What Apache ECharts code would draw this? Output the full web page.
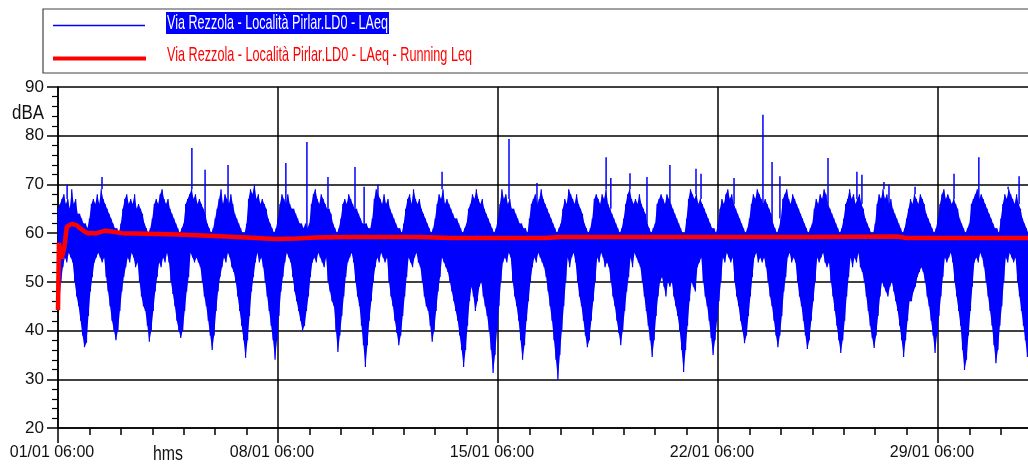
<!DOCTYPE html>
<html><head><meta charset="utf-8">
<script src="https://cdn.jsdelivr.net/npm/echarts@6/dist/echarts.min.js"></script>
<style>html,body{margin:0;padding:0;background:#fff;overflow:hidden}#c{width:1028px;height:465px}</style>
</head><body><div id="c"></div>
<script>
// ---- data ----
const seriesNames = ['Via Rezzola - Località Pirlar.LD0 - LAeq', 'Via Rezzola - Località Pirlar.LD0 - LAeq - Running Leq'];
const xTickLabels = ['01/01 06:00', '08/01 06:00', '15/01 06:00', '22/01 06:00', '29/01 06:00'];
const yUnit = 'dBA';
const xUnit = 'hms';
const slotHours = 1.5; // one slot every 1.5 h, starting 01/01 06:00 (x in days)
// highest LAeq in each slot (dBA), one row per day
const hiVals = [
  65,66,67,68,66,67,65,69,66,67,64,64,63,62,62,61,
  63,66,67,66,68,66,69,67,66,65,64,63,62,61,61,60,
  62,65,67,68,66,67,66,68,65,66,65,64,62,61,60,61,
  63,66,67,66,68,69,67,66,67,65,64,63,62,61,60,61,
  62,66,67,68,69,67,68,66,67,66,65,64,62,61,60,61,
  63,65,67,69,66,68,67,66,68,66,64,63,62,61,60,60,
  62,67,69,68,70,67,68,66,67,66,65,63,62,61,60,61,
  63,66,68,67,66,68,66,65,65,64,63,62,62,61,62,61,
  62,66,68,69,67,66,68,67,66,65,65,64,62,61,60,61,
  63,66,67,66,68,67,66,65,65,64,63,62,62,62,61,61,
  63,67,69,68,67,66,68,66,67,65,64,63,62,61,61,60,
  62,65,67,68,66,69,67,66,67,65,64,63,62,61,60,61,
  63,66,68,67,69,66,67,66,65,64,63,63,62,61,60,61,
  62,65,66,68,67,69,67,66,67,65,64,63,62,61,60,61,
  63,66,69,67,68,66,67,65,65,64,63,62,62,61,61,60,
  63,66,67,68,66,67,69,67,66,65,64,63,62,61,60,61,
  62,65,67,66,69,68,67,66,68,66,65,64,62,61,60,61,
  63,67,68,67,66,68,67,69,66,65,64,63,62,61,60,61,
  63,66,68,69,67,66,67,66,68,66,65,64,62,61,60,61,
  62,66,67,68,67,66,68,67,66,65,64,63,62,61,60,60,
  63,67,69,68,67,68,66,67,66,65,64,63,62,61,61,60,
  62,65,67,66,68,69,67,68,66,65,64,63,62,61,60,61,
  63,66,68,67,69,68,67,66,67,66,65,64,62,61,60,61,
  63,67,68,69,67,66,68,67,66,65,64,63,62,61,60,61,
  62,65,67,66,68,67,69,68,66,65,64,63,62,61,60,61,
  63,66,67,69,67,68,66,67,68,66,65,63,62,61,60,60,
  62,66,68,67,69,67,68,66,67,65,64,63,62,61,60,61,
  63,65,67,66,68,67,66,68,67,66,64,63,62,61,60,61,
  63,66,68,69,67,68,67,66,67,66,65,63,62,61,60,61,
  62,66,67,68,69,67,68,67,66,65,64,63,62,61,61,60,
  63,66,68,67,69,68,67,66,68,66,65,63,62,61,60,61
];
// lowest LAeq in each slot (dBA)
const loVals = [
  45,50,53,55,54,56,55,54,50,47,45,42,39,36.6,37.5,43,
  48,51,54,55,56,55,54,55,51,48,45,42,40,38,40,44,
  48,51,53,55,54,56,55,53,54,50,47,45,44,41,37.7,40,
  44,48,51,54,53,55,54,56,54,50,47.5,45,42,40,38.5,40,
  44,48,51,56,55,54,55,54,53,50,47,45,42,39,36,39,
  44,48,51,53,55,54,56,55,53,52,50,47,44,41,38,34.4,
  38,43,48,51,54,56,54,55,53,50,47,44,41,38,34,38,
  43,48,51,54,56,55,54,51,48,46,44,42,40,41,44,47,
  51,54,55,54,56,55,54,53,55,50,48,46,45,40,35.6,39,
  43,47,51,54,55,56,54,50,47,45,41,37,32.5,37,42,46,
  50,53,55,54,56,55,54,55,50,47,45,42,39.5,37,39,43,
  47,51,55,54,53,55,56,54,53,50,47,45,44,41,37.7,40,
  44,48,51,55,54,53,52,50,48,46,44,42,39,36,32.5,36,
  41,46,49,47,44,46,49,50,47,45,43,40,36,31.3,35,40,
  45,50,54,55,54,56,55,50,47,45,42,38,34,37,42,46,
  50,53,55,54,56,55,54,53,51,48,45,42,38,34,29.9,35,
  40,45,50,55,53,55,56,54,50,47,45,42,39,36.6,38,42,
  46,50,55,54,56,55,53,54,53,50,47,45,42,39.5,37,40,
  44,48,51,55,53,56,55,54,53,50,47,44,41,38,34.6,38,
  43,47,50,51,49,47,50,49,50,47,45,43,40,36,31.5,36,
  41,46,50,49,48,53,54,55,50,47,45,42,38.5,35,38,42,
  46,50,55,54,56,55,54,55,50,47,45,42,40,37.4,39,43,
  47,51,55,56,54,55,54,55,53,50,47,45,42,39,36.6,39,
  43,48,51,55,56,54,55,54,50,47,45,42,39,36.2,38,42,
  46,50,55,54,55,56,54,53,54,50,47,44,41,38,35.4,38,
  42,47,51,55,53,55,54,56,53,52,50,47,44,41,38.5,36.4,
  39,43,47,50,49,48,47,49,50,48,46,44,41,38,34.6,38,
  42,46,46,48,49,51,52,53,52,50,47,45,42,39,35.4,39,
  43,47,51,55,54,55,56,54,50,47,44,41,36,31.9,34,39,
  44,49,54,55,54,56,55,53,50,47,44,41,37,33.3,36,41,
  45,50,55,54,56,55,54,55,50,47,44,41,38,34.6,37,42
];
// isolated high peaks [day offset, dBA]
const spikes = [
  [0.29,70],[1.40,71.5],[4.26,77.5],[4.68,73],[5.41,74],[7.25,74.4],[7.92,78.7],[8.59,71.5],
  [9.45,73.6],[9.74,69.5],[10.18,70],[12.22,72.6],[14.35,79.3],[15.24,70.3],[17.44,75.6],[17.59,71.3],
  [18.20,72.3],[18.74,71.5],[19.47,74],[20.30,73.2],[20.46,72.2],[21.51,71.3],[22.43,84.3],[22.72,74.6],
  [22.97,71.7],[24.50,75.4],[25.42,72.6],[25.58,72],[26.28,70.5],[26.44,70],[27.27,69.5],[28.51,72.2],
  [29.30,75.6],[30.23,69.5],[30.58,71.7]
];
// running Leq [day offset, dBA]
const runningLeq = [
  [0,44.2],[0.03,58],[0.12,54.8],[0.2,57],[0.28,61.3],[0.44,61.9],[0.6,61.6],[0.7,61.0],[0.85,60.3],
  [0.95,60.0],[1.23,60.0],[1.5,60.5],[1.75,60.3],[2.04,60.0],[2.83,59.9],[3.82,59.7],[5.0,59.4],
  [6.0,59.1],[6.9,58.8],[7.6,58.9],[8.2,59.1],[9.2,59.2],[11.5,59.2],[12.5,59.0],[15.5,59.0],[16,59.2],
  [20,59.2],[24,59.2],[26.7,59.3],[27.0,59.0],[30,59.0],[30.9,59.0]
];

// ---- build ----
const FONT = "'Liberation Sans', Arial, sans-serif";
const step = slotHours / 24;
const zig = [];
hiVals.forEach((h, i) => { zig.push([i * step, h]); zig.push([i * step + step / 2, loVals[i]]); });
const idx = t => Math.max(0, Math.min(hiVals.length - 1, Math.round(t / step)));
const hiAt = t => hiVals[idx(t)];

const mctx = document.createElement('canvas').getContext('2d');
function fitScale(text, size, target) {
  mctx.font = size + 'px ' + FONT;
  return target / mctx.measureText(text).width;
}
function label(text, x, y, size, target, color) {
  return {type: 'text', x: x, y: y, scaleX: fitScale(text, size, target), z: 102,
    style: {text: text, fill: color, font: size + 'px ' + FONT, verticalAlign: 'middle', textVerticalAlign: 'middle'}};
}

const chart = echarts.init(document.getElementById('c'), null, {renderer: 'canvas'});
const axisCol = '#000';
chart.setOption({
  animation: false,
  backgroundColor: '#fff',
  grid: {left: 58, top: 87, bottom: 37, right: -130, containLabel: false, outerBoundsMode: 'none'},
  xAxis: {
    type: 'value', min: 0, max: 35, interval: 7,
    axisLine: {show: true, lineStyle: {color: axisCol, width: 1.5}},
    axisTick: {show: true, length: 15, lineStyle: {color: axisCol, width: 1.5}},
    minorTick: {show: true, splitNumber: 7, length: 7, lineStyle: {color: axisCol, width: 1.5}},
    splitLine: {show: true, lineStyle: {color: axisCol, width: 1.5}},
    axisLabel: {
      fontFamily: FONT, fontSize: 16, color: '#111', margin: 17, padding: [0, 12, 0, 0],
      formatter: v => { const k = Math.round(v / 7); return Math.abs(v - 7 * k) < 1e-6 && k < xTickLabels.length ? xTickLabels[k] : ''; }
    }
  },
  yAxis: {
    type: 'value', min: 20, max: 90, interval: 10,
    axisLine: {show: true, lineStyle: {color: axisCol, width: 1.5}},
    axisTick: {show: true, length: 11, lineStyle: {color: axisCol, width: 1.5}},
    minorTick: {show: true, splitNumber: 5, length: 6, lineStyle: {color: axisCol, width: 1.2}},
    splitLine: {show: true, lineStyle: {color: axisCol, width: 1.5}},
    axisLabel: {fontFamily: FONT, fontSize: 17, color: '#111', margin: 14}
  },
  graphic: [
    {type: 'rect', shape: {x: 43, y: 9, width: 1000, height: 64}, style: {fill: '#fff', stroke: '#444', lineWidth: 1.2}, z: 100},
    {type: 'line', shape: {x1: 53, y1: 25.5, x2: 145, y2: 25.5}, style: {stroke: '#0000ff', lineWidth: 1.6}, z: 101},
    {type: 'line', shape: {x1: 53, y1: 58.5, x2: 146, y2: 58.5}, style: {stroke: '#ff0000', lineWidth: 4}, z: 101},
    {type: 'rect', shape: {x: 166, y: 12, width: 223, height: 22}, style: {fill: '#0000ff'}, z: 101},
    label(seriesNames[0], 167, 23, 21, 221, '#fff'),
    label(seriesNames[1], 167, 55, 21, 305, '#ff0000'),
    label(yUnit, 12, 113, 20, 32, '#111'),
    label(xUnit, 153, 454, 20, 30, '#111')
  ],
  series: [
    {
      type: 'custom', name: seriesNames[0] + ' body', clip: true, silent: true, z: 2,
      data: [0],
      renderItem: (params, api) => {
        const pts = [];
        hiVals.forEach((h, i) => pts.push(api.coord([i * step, h])));
        for (let i = loVals.length - 1; i >= 0; i--) pts.push(api.coord([i * step + step / 2, loVals[i]]));
        return {type: 'polygon', shape: {points: pts}, style: {fill: '#0000ff', stroke: null}};
      }
    },
    {
      type: 'line', name: seriesNames[0], data: zig, showSymbol: false, symbol: 'none', clip: true,
      sampling: null, lineStyle: {color: '#0000ff', width: 1.2}, z: 3, silent: true
    },
    {
      type: 'custom', name: 'peaks', clip: true, silent: true, z: 3,
      data: spikes.map(([t, v]) => [t, v, hiAt(t)]),
      renderItem: (params, api) => {
        const a = api.coord([api.value(0), api.value(2)]);
        const b = api.coord([api.value(0), api.value(1)]);
        return {type: 'line', shape: {x1: a[0], y1: a[1], x2: b[0], y2: b[1]}, style: {stroke: '#0000ff', lineWidth: 1.5}};
      }
    },
    {
      type: 'line', name: seriesNames[1], data: runningLeq, showSymbol: false, symbol: 'none', clip: true,
      lineStyle: {color: '#ff0000', width: 4.5}, z: 5, silent: true
    }
  ]
});
</script></body></html>
